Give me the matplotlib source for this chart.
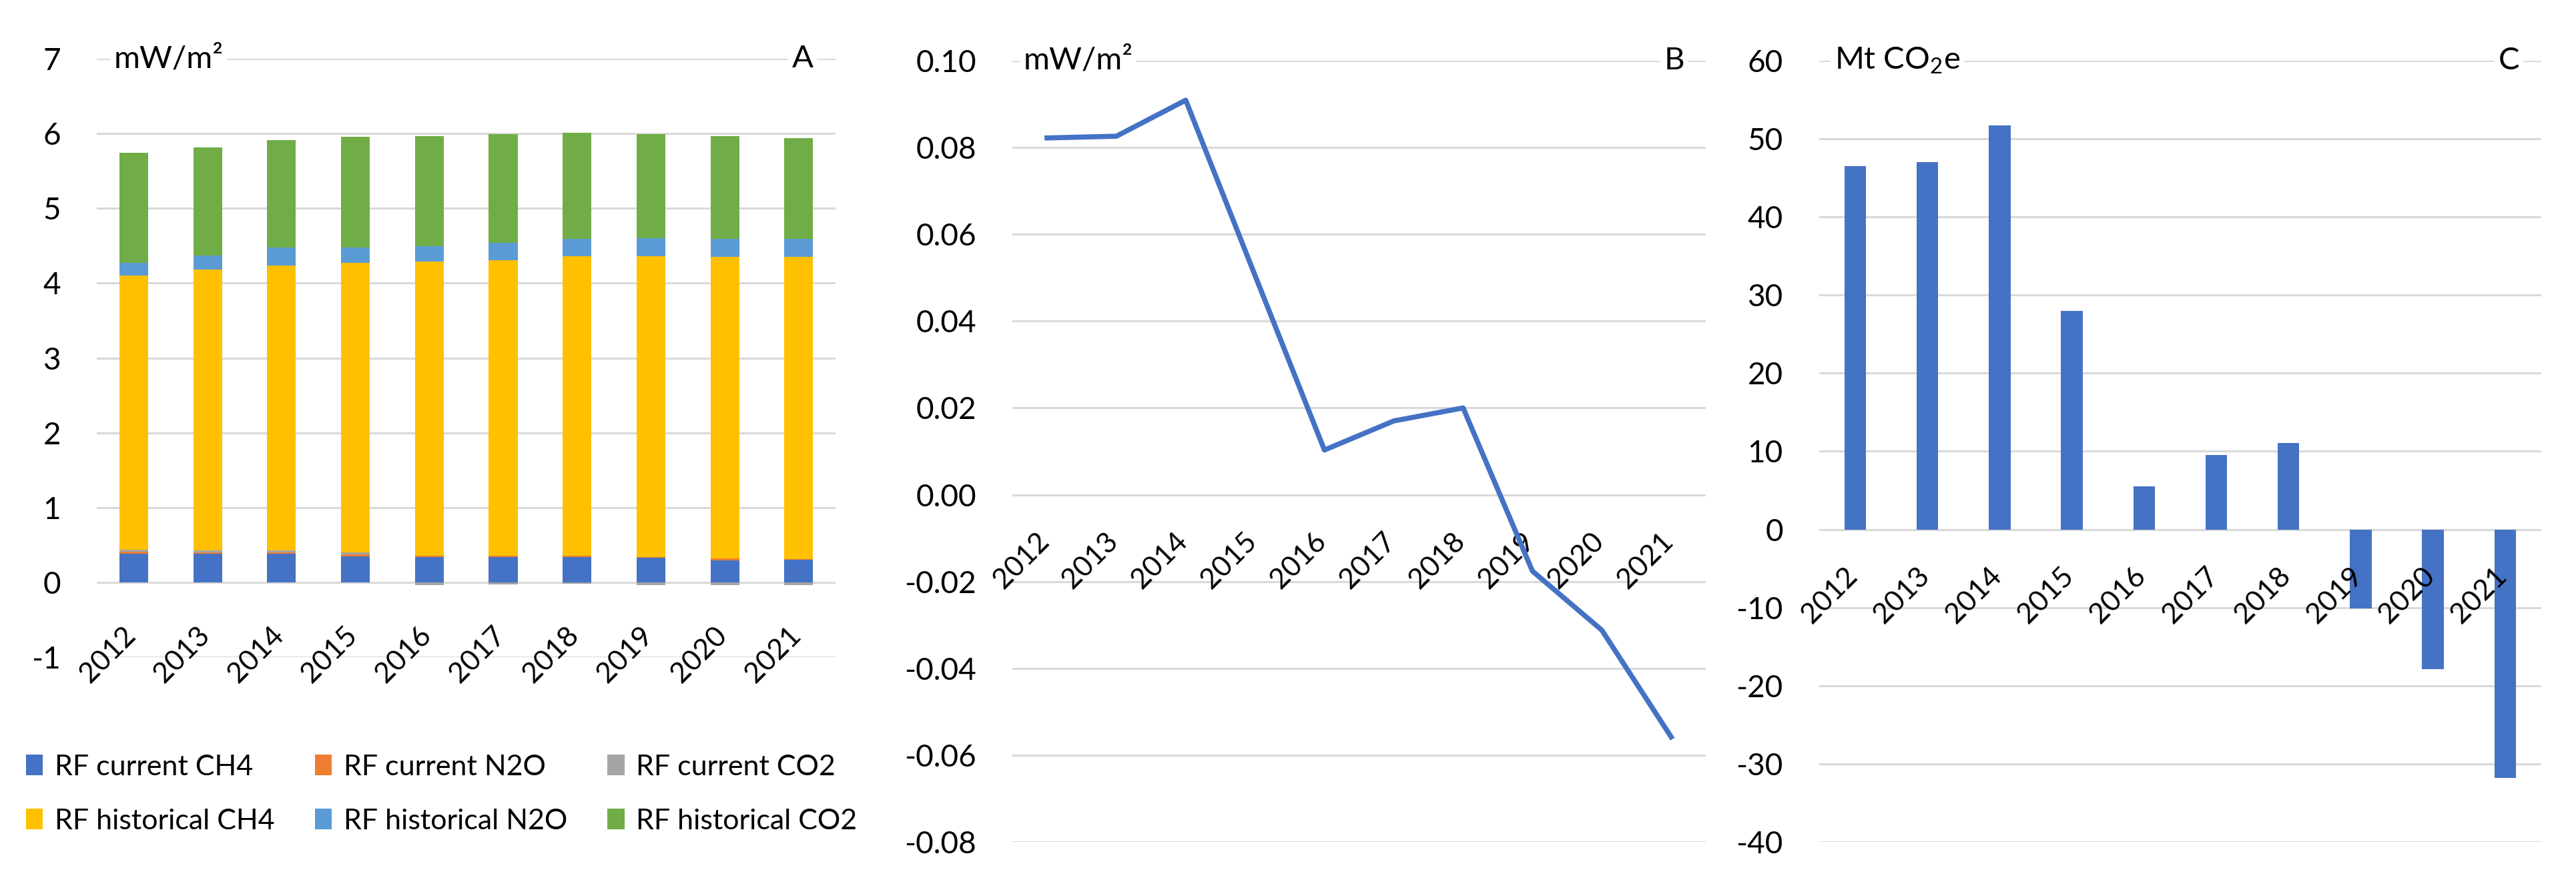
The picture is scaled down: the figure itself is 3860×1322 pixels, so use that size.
import matplotlib.pyplot as plt
import matplotlib.transforms as mtransforms
import numpy as np

plt.rcParams['font.family'] = ['Lato', 'DejaVu Sans']
plt.rcParams['axes.unicode_minus'] = False

years = ['2012', '2013', '2014', '2015', '2016', '2017', '2018', '2019', '2020', '2021']

# panel A, stacked radiative forcing (mW/m2)
rf_labels = ['RF current CH4', 'RF current N2O', 'RF current CO2',
             'RF historical CH4', 'RF historical N2O', 'RF historical CO2']
cur_ch4 = [0.38, 0.38, 0.38, 0.35, 0.34, 0.34, 0.34, 0.33, 0.29, 0.30]
cur_n2o = [0.03, 0.02, 0.02, 0.02, 0.02, 0.02, 0.02, 0.01, 0.03, 0.01]
cur_co2 = [0.03, 0.03, 0.03, 0.03, -0.04, -0.03, -0.02, -0.04, -0.04, -0.04]
hist_ch4 = [3.66, 3.75, 3.81, 3.87, 3.93, 3.95, 4.00, 4.02, 4.03, 4.04]
hist_n2o = [0.17, 0.19, 0.24, 0.21, 0.20, 0.23, 0.23, 0.24, 0.24, 0.24]
hist_co2 = [1.47, 1.44, 1.43, 1.48, 1.48, 1.45, 1.42, 1.39, 1.38, 1.35]
rf_colors = ['#4472C4', '#ED7D31', '#A5A5A5', '#FFC000', '#5B9BD5', '#70AD47']

# panel B, net RF change (mW/m2)
rf_net = [0.0822, 0.0826, 0.0909, 0.0505, 0.0103, 0.0170, 0.0200, -0.0176, -0.0312, -0.0558]

# panel C, Mt CO2e
co2e = [46.5, 47.0, 51.7, 28.0, 5.5, 9.5, 11.1, -10.1, -17.9, -31.8]

grid_c = '#D9D9D9'
tick_fs = 33
year_fs = 31

fig = plt.figure(figsize=(38.6, 13.22), dpi=100)
axA = fig.add_axes([0.0376, 0.2549, 0.2868, 0.6785])
axB = fig.add_axes([0.3930, 0.0454, 0.2692, 0.8858])
axC = fig.add_axes([0.7062, 0.0454, 0.2803, 0.8858])

nudge = mtransforms.ScaledTranslation(0.1, 0, fig.dpi_scale_trans)


def style(ax, lo, hi, step, fmt, xpad=36):
    ticks = np.arange(lo, hi + step / 2, step)
    ax.set_ylim(lo, hi)
    ax.set_yticks(ticks)
    ax.yaxis.set_major_formatter(plt.FormatStrFormatter(fmt))
    ax.set_xlim(-0.5, len(years) - 0.5)
    for s in ['top', 'right', 'left']:
        ax.spines[s].set_visible(False)
    ax.spines['bottom'].set_position(('data', 0))
    ax.spines['bottom'].set_visible(False)
    # gridlines under the marks, year labels above them
    for t in ticks:
        ax.axhline(t, color=grid_c, linewidth=2.2, zorder=0)
    ax.tick_params(axis='y', length=0, pad=39, labelsize=tick_fs)
    ax.tick_params(axis='x', length=0, pad=xpad, labelsize=year_fs)
    ax.set_xticks(range(len(years)))
    ax.set_xticklabels(years, rotation=45, ha='right', va='top', fontsize=year_fs)
    for lab in ax.get_xticklabels():
        lab.set_transform(lab.get_transform() + nudge)


x = np.arange(len(years))

# panel A
series = [cur_ch4, cur_n2o, cur_co2, hist_ch4, hist_n2o, hist_co2]
pos = np.zeros(len(years))
neg = np.zeros(len(years))
handles = []
for vals, col, lab in zip(series, rf_colors, rf_labels):
    v = np.array(vals)
    bottom = np.where(v >= 0, pos, neg)
    b = axA.bar(x, v, 0.39, bottom=bottom, color=col, label=lab, zorder=1)
    handles.append(b)
    pos = pos + np.where(v >= 0, v, 0)
    neg = neg + np.where(v < 0, v, 0)
style(axA, -1, 7, 1, '%d', xpad=43)

# panel B
axB.plot(x, rf_net, color='#4472C4', linewidth=5.5, solid_joinstyle='round', zorder=3)
style(axB, -0.08, 0.10, 0.02, '%.2f')

# panel C
axC.bar(x, co2e, 0.3, color='#4472C4', zorder=1)
style(axC, -40, 60, 10, '%d')

box = dict(facecolor='white', edgecolor='none', pad=4)
axA.text(0.023, 1, 'mW/m²', transform=axA.transAxes, va='center', ha='left', fontsize=34, bbox=box)
axB.text(0.016, 1, 'mW/m²', transform=axB.transAxes, va='center', ha='left', fontsize=34, bbox=box)
axC.text(0.021, 1, r'Mt CO$\mathregular{_2}$e', transform=axC.transAxes, va='center', ha='left', fontsize=34, bbox=box)
for ax, letter in [(axA, 'A'), (axB, 'B'), (axC, 'C')]:
    ax.text(0.955, 1, letter, transform=ax.transAxes, va='center', ha='center', fontsize=34, bbox=box)

# legend in row order
order = [0, 3, 1, 4, 2, 5]
fig.legend([handles[i] for i in order], [rf_labels[i] for i in order],
           ncol=3, loc='center left', bbox_to_anchor=(0.010, 0.0998),
           frameon=False, fontsize=31, handlelength=0.6, handleheight=0.7,
           handletextpad=0.4, columnspacing=1.4, labelspacing=1.0,
           borderpad=0, borderaxespad=0)

fig.savefig('out.png', dpi=100)
